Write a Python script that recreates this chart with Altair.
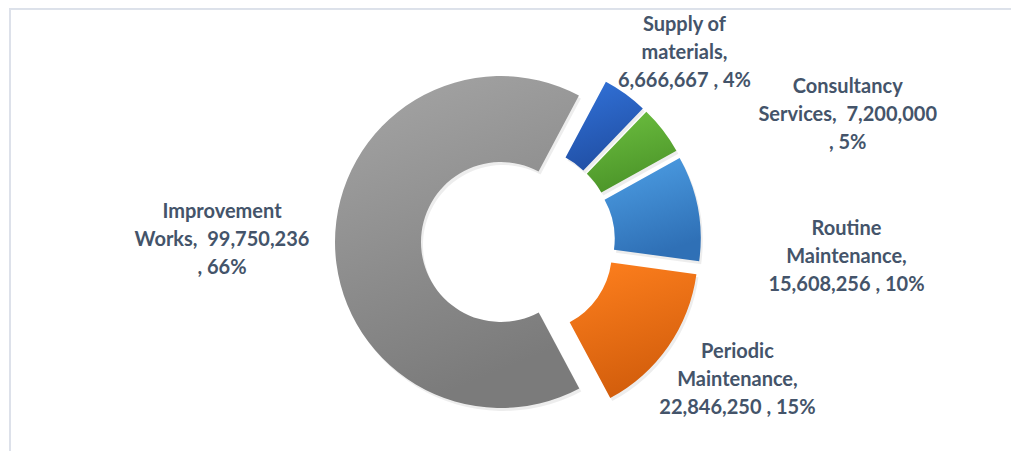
import altair as alt
import pandas as pd

# ---- data ----
categories = [
    "Supply of materials",
    "Consultancy Services",
    "Routine Maintenance",
    "Periodic Maintenance",
    "Improvement Works",
]
values = [6666667, 7200000, 15608256, 22846250, 99750236]
label_lines = [
    ["Supply of", "materials,", "6,666,667 , 4%"],
    ["Consultancy", "Services,\u00a0 7,200,000", ", 5%"],
    ["Routine", "Maintenance,", "15,608,256 , 10%"],
    ["Periodic", "Maintenance,", "22,846,250 , 15%"],
    ["Improvement", "Works,\u00a0 99,750,236", ", 66%"],
]

df = pd.DataFrame({
    "category": categories,
    "value": values,
    "order": list(range(len(categories))),
    "label": ["\n".join(l) for l in label_lines],
})

# ---- layout / style ----
W, H = 1003, 443
CX, CY = 510, 234          # donut centre
R_OUT, R_IN = 166, 80      # radii
EXPLODE = 17               # explosion distance
START_DEG = 28             # angle of first slice
LABEL_R = 260
LINE_H = 28

styles = {
    "Supply of materials":  ("#3273DA", "#2150A6", (14, 22)),
    "Consultancy Services": ("#6DC040", "#4C9529", (124, 32)),
    "Routine Maintenance":  ("#4EA0E6", "#2F70B6", (73, 63)),
    "Periodic Maintenance": ("#FF801E", "#D35E0C", (6, -10)),
    "Improvement Works":    ("#A6A6A6", "#7B7B7B", (-36, -2)),
}
TEXT_COLOR = "#44546A"

base = (
    alt.Chart(df)
    .transform_joinaggregate(total="sum(value)")
    .transform_window(cum="sum(value)", sort=[alt.SortField("order")], frame=[None, 0])
    .transform_calculate(
        t0=f"{START_DEG}*PI/180 + 2*PI*(datum.cum - datum.value)/datum.total",
        t1=f"{START_DEG}*PI/180 + 2*PI*datum.cum/datum.total",
    )
    .transform_calculate(mid="(datum.t0 + datum.t1)/2")
    .transform_calculate(
        cx=f"{CX} + {EXPLODE}*sin(datum.mid)",
        cy=f"{CY} - {EXPLODE}*cos(datum.mid)",
        lx=f"{CX} + {LABEL_R}*sin(datum.mid)",
        ly=f"{CY} - {LABEL_R}*cos(datum.mid)",
    )
)

arc_enc = dict(
    x=alt.X("cx:Q", scale=None, axis=None),
    y=alt.Y("cy:Q", scale=None, axis=None),
    theta=alt.Theta("t0:Q", scale=None, stack=None),
    theta2=alt.Theta2("t1:Q"),
)

layers = []

# border lines of the chart frame
border_top = alt.Chart(df).mark_rule(color="#DCE1EA", strokeWidth=1.5).encode(
    x=alt.value(2), x2=alt.value(W), y=alt.value(0.75)
)
border_left = alt.Chart(df).mark_rule(color="#DCE1EA", strokeWidth=1.5).encode(
    x=alt.value(2), y=alt.value(0), y2=alt.value(H)
)
layers += [border_top, border_left]

# soft shadow
shadow = base.mark_arc(
    radius=R_OUT, radius2=R_IN, fill="#000000", opacity=0.07, xOffset=2, yOffset=3
).encode(**arc_enc)
layers.append(shadow)

for cat in categories:
    c1, c2, _ = styles[cat]
    grad = alt.LinearGradient(
        gradient="linear",
        x1=0, y1=0, x2=0.3, y2=1,
        stops=[alt.GradientStop(color=c1, offset=0), alt.GradientStop(color=c2, offset=1)],
    )
    layers.append(
        base.transform_filter(alt.datum.category == cat)
        .mark_arc(radius=R_OUT, radius2=R_IN, fill=grad)
        .encode(**arc_enc)
    )

for cat in categories:
    _, _, (ddx, ddy) = styles[cat]
    layers.append(
        base.transform_filter(alt.datum.category == cat)
        .mark_text(
            font="Lato", fontWeight="bold", fontSize=20, color=TEXT_COLOR,
            lineBreak="\n", lineHeight=LINE_H, align="center", baseline="middle",
            dx=ddx, dy=ddy - LINE_H,
        )
        .encode(
            x=alt.X("lx:Q", scale=None, axis=None),
            y=alt.Y("ly:Q", scale=None, axis=None),
            text="label:N",
        )
    )

chart = (
    alt.layer(*layers)
    .properties(width=W, height=H, padding=0, autosize="none", background="white")
    .configure_view(stroke=None)
)

chart.save("out.html", embed_options={"renderer": "svg", "actions": False})
